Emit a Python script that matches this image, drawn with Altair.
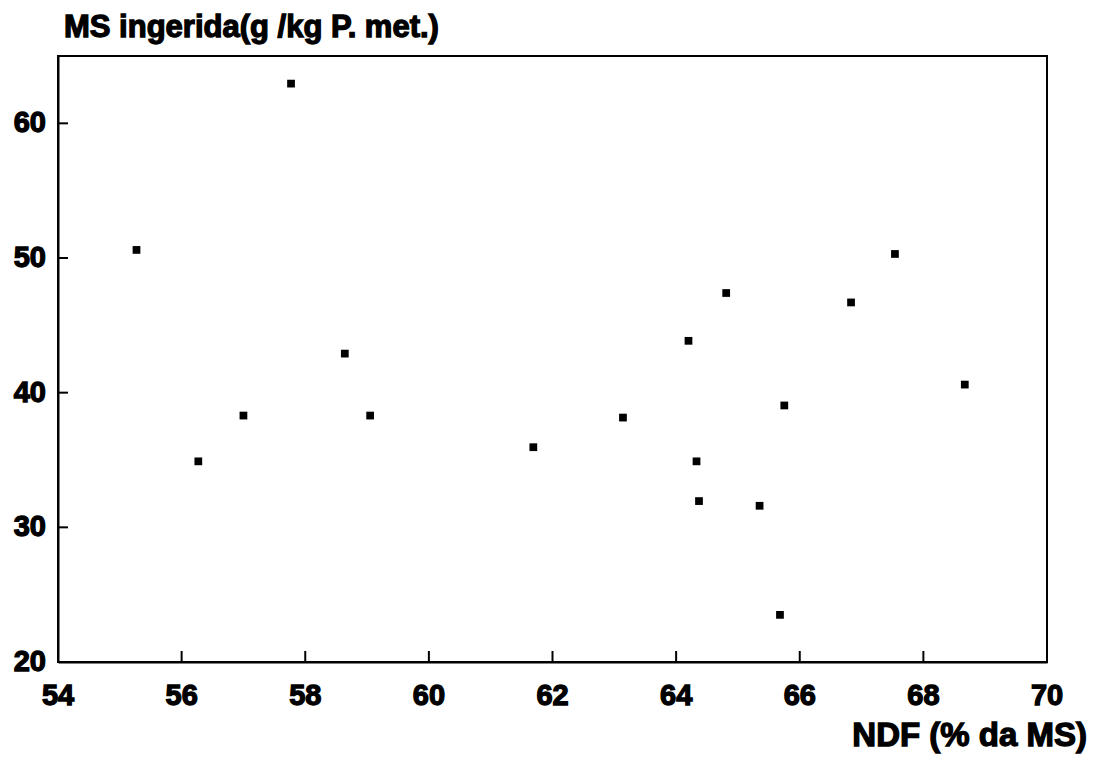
import altair as alt
import pandas as pd

# Data
ndf = [55.27, 56.27, 57.0, 57.77, 58.64, 59.05, 61.69, 63.14, 64.2,
       64.33, 64.37, 64.81, 65.35, 65.68, 65.75, 66.83, 67.54, 68.67]
ms = [50.6, 34.9, 38.3, 62.95, 42.9, 38.3, 35.95, 38.15, 43.85,
      34.9, 31.95, 47.4, 31.6, 23.5, 39.05, 46.7, 50.3, 40.6]

x_ticks = [54, 56, 58, 60, 62, 64, 66, 68, 70]
y_ticks = [20, 30, 40, 50, 60]
x_inner_ticks = [56, 58, 60, 62, 64, 66, 68]
y_inner_ticks = [30, 40, 50, 60]

x_title = "NDF (% da MS)"
y_title = "MS ingerida(g /kg P. met.)"

df = pd.DataFrame({"ndf": ndf, "ms": ms})
xt = pd.DataFrame({"v": x_inner_ticks})
yt = pd.DataFrame({"v": y_inner_ticks})
xl = pd.DataFrame({"v": x_ticks, "t": [str(v) for v in x_ticks]})
yl = pd.DataFrame({"v": y_ticks, "t": [str(v) for v in y_ticks]})
titles = pd.DataFrame({"t": [y_title]})
xtitles = pd.DataFrame({"t": [x_title]})

FONT = "Liberation Sans"
W, H = 989, 606
SW = 1.3  # stroke to thicken glyphs like the heavy original type

xscale = alt.Scale(domain=[54, 70], nice=False, zero=False)
yscale = alt.Scale(domain=[20, 65], nice=False, zero=False)

points = alt.Chart(df).mark_square(size=60, color="black", opacity=1).encode(
    x=alt.X("ndf:Q", scale=xscale,
            axis=alt.Axis(values=x_ticks, title=None, grid=False, labels=False,
                          ticks=False, domainColor="black", domainWidth=2)),
    y=alt.Y("ms:Q", scale=yscale,
            axis=alt.Axis(values=y_ticks, title=None, grid=False, labels=False,
                          ticks=False, domainColor="black", domainWidth=2)),
)

xticks = alt.Chart(xt).mark_rule(color="black", strokeWidth=2).encode(
    x=alt.X("v:Q", scale=xscale),
    y=alt.value(H),
    y2=alt.value(H - 11),
)

yticks = alt.Chart(yt).mark_rule(color="black", strokeWidth=2).encode(
    y=alt.Y("v:Q", scale=yscale),
    x=alt.value(0),
    x2=alt.value(10),
)

text_style = dict(font=FONT, fontWeight="bold", color="black",
                  stroke="black", strokeWidth=SW)

xlabels = alt.Chart(xl).mark_text(fontSize=29, align="center", baseline="top",
                                  **text_style).encode(
    x=alt.X("v:Q", scale=xscale),
    y=alt.value(H + 20),
    text="t:N",
)

ylabels = alt.Chart(yl).mark_text(fontSize=29, align="right", baseline="middle",
                                  **text_style).encode(
    y=alt.Y("v:Q", scale=yscale),
    x=alt.value(-12),
    text="t:N",
)

ytitle = alt.Chart(titles).mark_text(fontSize=31, align="left", baseline="alphabetic",
                                     **text_style).encode(
    x=alt.value(6),
    y=alt.value(-19),
    text="t:N",
)

xtitle = alt.Chart(xtitles).mark_text(fontSize=33, align="right", baseline="alphabetic",
                                      **text_style).encode(
    x=alt.value(1029),
    y=alt.value(H + 84),
    text="t:N",
)

chart = alt.layer(points, xticks, yticks, xlabels, ylabels, ytitle, xtitle).properties(
    width=W, height=H,
    autosize=alt.AutoSizeParams(type="none"),
    padding={"left": 58, "top": 56, "right": 46, "bottom": 106},
    background="white",
).configure_view(stroke="black", strokeWidth=2)

chart.save("out.html", embed_options={"renderer": "svg", "actions": False})
